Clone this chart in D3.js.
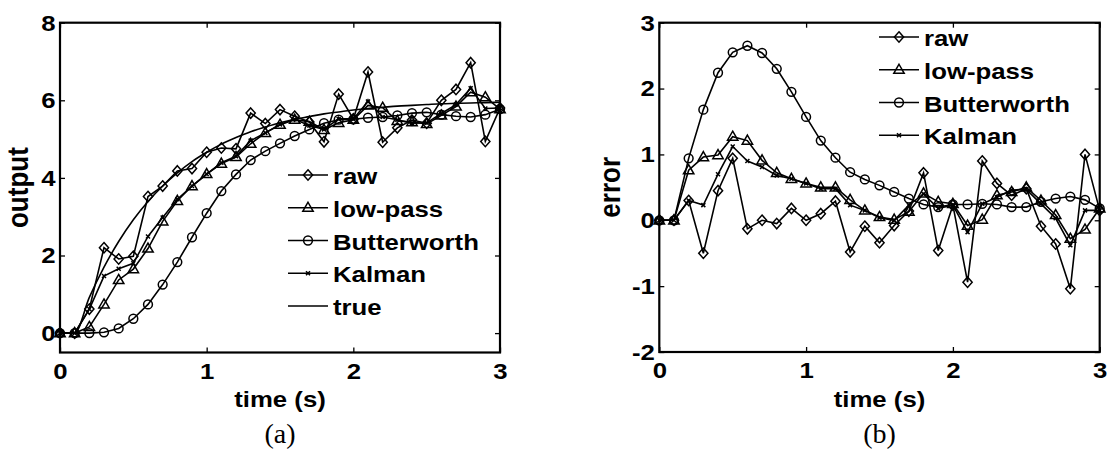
<!DOCTYPE html>
<html>
<head>
<meta charset="utf-8">
<script src="https://cdn.jsdelivr.net/npm/d3@7"></script>
<style>
body { margin: 0; background: #fff; }
svg text { font-family: "Liberation Sans", Arial, sans-serif; font-weight: bold; fill: #000; }
.tick text { font-size: 23px; }
.legend-text { font-size: 23px; }
.axis-label { font-size: 23px; }
.y-label { font-size: 26px; }
.caption { font-family: "Liberation Serif", "Times New Roman", serif; font-weight: normal; font-size: 28px; }
</style>
</head>
<body>
<svg id="chart" width="1107" height="452"></svg>
<script>
// sample times (s)
var time = [0, 0.1, 0.2, 0.3, 0.4, 0.5, 0.6, 0.7, 0.8, 0.9, 1.0, 1.1, 1.2, 1.3, 1.4, 1.5,
            1.6, 1.7, 1.8, 1.9, 2.0, 2.1, 2.2, 2.3, 2.4, 2.5, 2.6, 2.7, 2.8, 2.9, 3.0];

// (a) output
var trueOutput    = [0, 0, 0.92, 1.70, 2.36, 2.92, 3.39, 3.79, 4.13, 4.42, 4.66, 4.87, 5.04, 5.19, 5.31, 5.42,
                     5.51, 5.58, 5.65, 5.70, 5.75, 5.79, 5.82, 5.85, 5.87, 5.89, 5.91, 5.92, 5.93, 5.94, 5.95];
var rawOutput     = [0, 0, 0.62, 2.20, 1.91, 1.98, 3.52, 3.79, 4.18, 4.24, 4.66, 4.77, 4.75, 5.67, 5.40, 5.76,
                     5.59, 5.44, 4.93, 6.16, 5.52, 6.73, 4.92, 5.29, 5.49, 5.41, 6.00, 6.28, 6.97, 4.94, 5.80];
var lowpassOutput = [0, 0, 0.16, 0.74, 1.37, 1.65, 2.18, 2.88, 3.41, 3.79, 4.10, 4.37, 4.54, 4.88, 5.16, 5.37,
                     5.50, 5.45, 5.24, 5.42, 5.50, 5.87, 5.81, 5.47, 5.44, 5.39, 5.61, 5.84, 6.21, 6.08, 5.77];
var butterOutput  = [0, 0, 0, 0.02, 0.12, 0.37, 0.74, 1.25, 1.83, 2.47, 3.09, 3.66, 4.09, 4.46, 4.69, 4.89,
                     5.08, 5.25, 5.41, 5.50, 5.51, 5.55, 5.57, 5.61, 5.67, 5.69, 5.63, 5.59, 5.57, 5.63, 5.77];
var kalmanOutput  = [0, 0, 0.62, 1.47, 1.66, 1.80, 2.49, 2.98, 3.45, 3.79, 4.10, 4.39, 4.56, 4.96, 5.16, 5.38,
                     5.51, 5.35, 5.25, 5.52, 5.52, 5.97, 5.57, 5.50, 5.41, 5.42, 5.66, 5.89, 6.31, 5.79, 5.80];

// (b) error
var rawError     = [0, 0, 0.30, -0.50, 0.45, 0.94, -0.13, 0.00, -0.05, 0.18, 0.00, 0.10, 0.29, -0.48, -0.09, -0.34,
                    -0.08, 0.14, 0.72, -0.46, 0.23, -0.94, 0.90, 0.56, 0.38, 0.48, -0.09, -0.36, -1.04, 1.00, 0.15];
var lowpassError = [0, 0, 0.76, 0.96, 0.99, 1.27, 1.21, 0.91, 0.72, 0.63, 0.56, 0.50, 0.50, 0.31, 0.15, 0.05,
                    0.01, 0.13, 0.41, 0.28, 0.25, -0.08, 0.01, 0.38, 0.43, 0.50, 0.30, 0.08, -0.28, -0.14, 0.18];
var butterError  = [0, 0, 0.94, 1.68, 2.24, 2.55, 2.65, 2.54, 2.30, 1.95, 1.57, 1.21, 0.95, 0.73, 0.62, 0.53,
                    0.43, 0.33, 0.24, 0.20, 0.24, 0.24, 0.25, 0.24, 0.20, 0.20, 0.28, 0.33, 0.36, 0.31, 0.18];
var kalmanError  = [0, 0, 0.30, 0.23, 0.70, 1.12, 0.90, 0.81, 0.68, 0.63, 0.56, 0.48, 0.48, 0.23, 0.15, 0.04,
                    0.00, 0.23, 0.40, 0.18, 0.23, -0.18, 0.25, 0.35, 0.46, 0.47, 0.25, 0.03, -0.38, 0.15, 0.15];

var timeTicks = [0, 1, 2, 3];
var outputTicks = [0, 2, 4, 6, 8];
var errorTicks = [-2, -1, 0, 1, 2, 3];

var seriesNames = ["raw", "low-pass", "Butterworth", "Kalman", "true"];

var svg = d3.select("#chart");
var stretch = "scale(1.12,1)";
var plain = function(d) { return String(d); };  // keep ASCII hyphen for negatives

var markers = {
  diamond: "M0,-5.2L4.6,0L0,5.2L-4.6,0Z",
  triangle: "M0,-5.5L5.2,3.6L-5.2,3.6Z",
  cross: "M-2,-2L2,2M-2,2L2,-2",
  none: null
};

function drawMarker(g, type, cx, cy) {
  if (type === "circle") {
    g.append("circle").attr("cx", cx).attr("cy", cy).attr("r", 4.4)
      .attr("fill", "none").attr("stroke", "#000").attr("stroke-width", 1.5);
  } else if (markers[type]) {
    g.append("path").attr("d", markers[type])
      .attr("transform", "translate(" + cx + "," + cy + ")")
      .attr("fill", "none").attr("stroke", "#000").attr("stroke-width", 1.5);
  }
}

function panel(p) {
  var x = d3.scaleLinear().domain([0, 3]).range([p.left, p.right]);
  var y = d3.scaleLinear().domain(p.yDomain).range([p.bottom, p.top]);
  var g = svg.append("g");

  function styleAxis(a) {
    a.select(".domain").remove();
    a.selectAll(".tick line").attr("stroke", "#000").attr("stroke-width", 1.3);
    a.selectAll(".tick text").attr("transform", stretch);
  }

  g.append("g").attr("transform", "translate(0," + p.bottom + ")")
    .call(d3.axisBottom(x).tickValues(timeTicks).tickSizeInner(-5).tickSizeOuter(0).tickPadding(10).tickFormat(plain))
    .call(styleAxis);
  g.append("g").attr("transform", "translate(0," + p.top + ")")
    .call(d3.axisTop(x).tickValues(timeTicks).tickSizeInner(-5).tickSizeOuter(0).tickFormat(""))
    .call(styleAxis);
  g.append("g").attr("transform", "translate(" + p.left + ",0)")
    .call(d3.axisLeft(y).tickValues(p.yTicks).tickSizeInner(-5).tickSizeOuter(0).tickPadding(4).tickFormat(plain))
    .call(styleAxis);
  g.append("g").attr("transform", "translate(" + p.right + ",0)")
    .call(d3.axisRight(y).tickValues(p.yTicks).tickSizeInner(-5).tickSizeOuter(0).tickFormat(""))
    .call(styleAxis);

  g.append("rect")
    .attr("x", p.left).attr("y", p.top)
    .attr("width", p.right - p.left).attr("height", p.bottom - p.top)
    .attr("fill", "none").attr("stroke", "#000").attr("stroke-width", 2.2);

  p.series.forEach(function(s) {
    var line = d3.line()
      .x(function(d, i) { return x(time[i]); })
      .y(function(d) { return y(d); });
    if (s.smooth) line.curve(d3.curveMonotoneX);
    g.append("path").attr("d", line(s.values))
      .attr("fill", "none").attr("stroke", "#000").attr("stroke-width", 1.6);
    s.values.forEach(function(d, i) {
      drawMarker(g, s.marker, x(time[i]), y(d));
    });
  });

  // legend, no box
  p.series.forEach(function(s, i) {
    var ry = p.legendY + i * p.legendStep;
    g.append("line")
      .attr("x1", p.legendX).attr("x2", p.legendX + 40)
      .attr("y1", ry).attr("y2", ry)
      .attr("stroke", "#000").attr("stroke-width", 1.6);
    drawMarker(g, s.marker, p.legendX + 20, ry);
    g.append("text").attr("class", "legend-text")
      .attr("transform", "translate(" + (p.legendX + 45) + "," + (ry + 9) + ") " + stretch)
      .text(s.name);
  });

  var cx = (p.left + p.right) / 2;
  g.append("text").attr("class", "axis-label")
    .attr("text-anchor", "middle")
    .attr("transform", "translate(" + cx + ",407) " + stretch)
    .text("time (s)");
  g.append("text").attr("class", "y-label")
    .attr("text-anchor", "middle")
    .attr("transform", "translate(" + p.yLabelX + "," + ((p.top + p.bottom) / 2) + ") " + stretch + " rotate(-90)")
    .text(p.yLabel);
  g.append("text").attr("class", "caption")
    .attr("text-anchor", "middle")
    .attr("x", cx).attr("y", 443)
    .text(p.caption);
}

panel({
  left: 60, right: 500, top: 22.7, bottom: 352.5,
  yDomain: [-0.5, 8], yTicks: outputTicks,
  yLabel: "output", yLabelX: 28, caption: "(a)",
  legendX: 288, legendY: 175, legendStep: 32.75,
  series: [
    { name: seriesNames[0], values: rawOutput, marker: "diamond" },
    { name: seriesNames[1], values: lowpassOutput, marker: "triangle" },
    { name: seriesNames[2], values: butterOutput, marker: "circle" },
    { name: seriesNames[3], values: kalmanOutput, marker: "cross" },
    { name: seriesNames[4], values: trueOutput, marker: "none", smooth: true }
  ]
});

panel({
  left: 659.3, right: 1099.7, top: 22.7, bottom: 352,
  yDomain: [-2, 3], yTicks: errorTicks,
  yLabel: "error", yLabelX: 620, caption: "(b)",
  legendX: 879, legendY: 37, legendStep: 32.75,
  series: [
    { name: seriesNames[0], values: rawError, marker: "diamond" },
    { name: seriesNames[1], values: lowpassError, marker: "triangle" },
    { name: seriesNames[2], values: butterError, marker: "circle" },
    { name: seriesNames[3], values: kalmanError, marker: "cross" }
  ]
});
</script>
</body>
</html>
